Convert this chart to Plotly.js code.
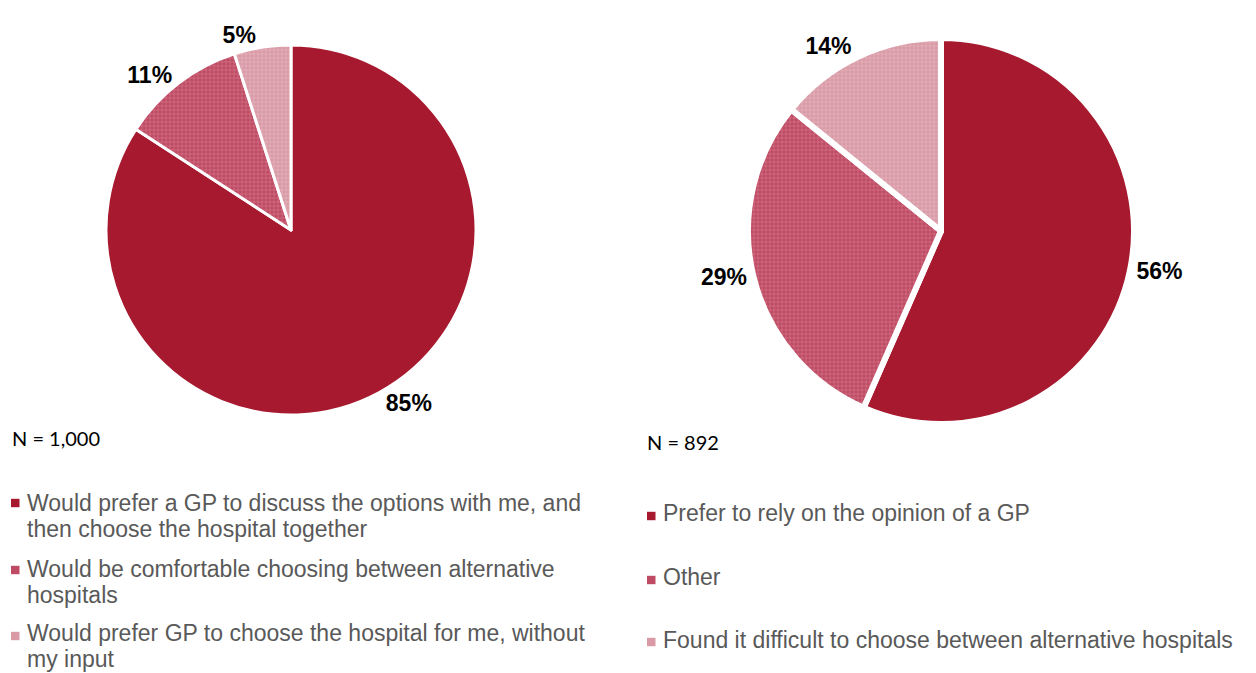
<!DOCTYPE html>
<html>
<head>
<meta charset="utf-8">
<script src="https://cdn.plot.ly/plotly-3.0.1.min.js"></script>
<style>html,body{margin:0;padding:0;background:#fff;}#chart{width:1256px;height:673px;}</style>
</head>
<body>
<div id="chart"></div>
<script>
// Data
const leftCategories = [
  "Would prefer a GP to discuss the options with me, and<br>then choose the hospital together",
  "Would be comfortable choosing between alternative<br>hospitals",
  "Would prefer GP to choose the hospital for me, without<br>my input"
];
const leftValues = [85, 11, 5];
const leftN = "N = 1,000";

const rightCategories = [
  "Prefer to rely on the opinion of a GP",
  "Other",
  "Found it difficult to choose between alternative hospitals"
];
const rightValues = [56, 29, 14];
const rightN = "N = 892";

const colors = ["#A6192E", "#BF4A63", "#D99AA6"];
const patternFg = ["#A6192E", "#E5A3B0", "#F3D6DC"];

const W = 1256, H = 673;
const px = x => x / W;
const py = y => 1 - y / H;

const pctFont = {family: "Arial, Liberation Sans, sans-serif", size: 23, color: "#000000", weight: "bold"};

function pieMarker(lineWidth) {
  return {
    colors: colors,
    line: {color: "#ffffff", width: lineWidth},
    pattern: {
      shape: ["", "+", "+"],
      fgcolor: patternFg,
      size: 4,
      solidity: 0.3,
      fillmode: "overlay"
    }
  };
}

const traces = [
  {
    type: "pie",
    labels: leftCategories,
    values: leftValues,
    text: leftValues.map(v => v + "%"),
    textinfo: "text",
    textposition: "outside",
    outsidetextfont: pctFont,
    sort: false,
    direction: "clockwise",
    rotation: 0,
    marker: pieMarker(3),
    domain: {x: [px(106), px(476)], y: [py(415), py(45)]},
    showlegend: false,
    hoverinfo: "label+text"
  },
  {
    type: "pie",
    labels: rightCategories,
    values: rightValues,
    text: rightValues.map(v => v + "%"),
    textinfo: "text",
    textposition: "outside",
    outsidetextfont: pctFont,
    sort: false,
    direction: "clockwise",
    rotation: 0,
    marker: pieMarker(6),
    domain: {x: [px(748), px(1134)], y: [py(424), py(38)]},
    showlegend: false,
    hoverinfo: "label+text"
  }
];

const legendFont = {family: "Arial, Liberation Sans, sans-serif", size: 23, color: "#595959"};
const annotations = [];
const shapes = [];

function addLegend(categories, textX, squareX, lineCenters, squareCenters) {
  let k = 0;
  categories.forEach((c, i) => {
    const lines = c.split("<br>");
    lines.forEach(line => {
      annotations.push({
        xref: "paper", yref: "paper", x: px(textX), y: py(lineCenters[k]),
        xanchor: "left", yanchor: "middle", align: "left",
        text: line, showarrow: false, font: legendFont
      });
      k++;
    });
    const sy = squareCenters[i];
    shapes.push({type: "rect", xref: "paper", yref: "paper",
      x0: px(squareX), x1: px(squareX + 8.5), y0: py(sy + 4.2), y1: py(sy - 4.2),
      fillcolor: colors[i], line: {width: 0}});
  });
}

addLegend(leftCategories, 25, 11, [503, 529, 569, 595, 633, 659], [503, 570, 636]);
addLegend(rightCategories, 661, 647, [513, 577, 640], [516, 580, 642]);

// N labels
const nFont = {family: "Lato, sans-serif", size: 20, color: "#000000"};
annotations.push({xref: "paper", yref: "paper", x: px(10), y: py(438), xanchor: "left", yanchor: "middle",
  text: leftN, showarrow: false, font: nFont});
annotations.push({xref: "paper", yref: "paper", x: px(645), y: py(442), xanchor: "left", yanchor: "middle",
  text: rightN, showarrow: false, font: nFont});

const layout = {
  width: W, height: H,
  margin: {l: 0, r: 0, t: 0, b: 0},
  paper_bgcolor: "#ffffff",
  plot_bgcolor: "#ffffff",
  showlegend: false,
  annotations: annotations,
  shapes: shapes
};

Plotly.newPlot("chart", traces, layout, {displayModeBar: false, staticPlot: true});
</script>
</body>
</html>
